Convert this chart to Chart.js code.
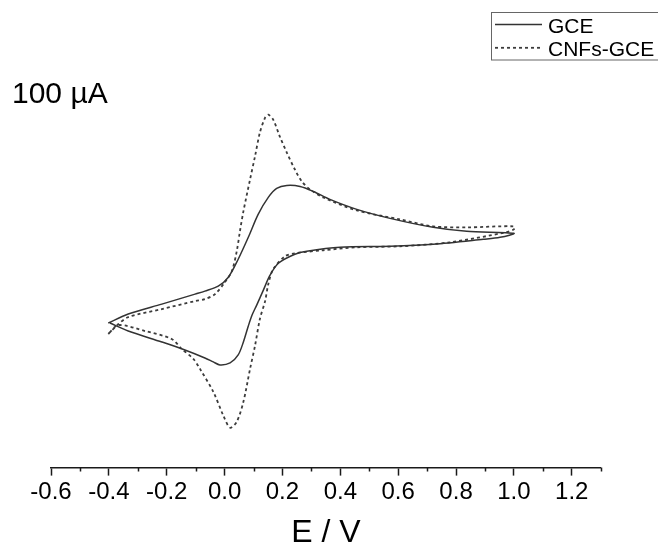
<!DOCTYPE html>
<html>
<head>
<meta charset="utf-8">
<script src="https://cdn.jsdelivr.net/npm/chart.js@4.4.1/dist/chart.umd.min.js"></script>
<style>
  html, body { margin: 0; padding: 0; background: #fff; }
  canvas { display: block; }
</style>
</head>
<body>
<canvas id="cv" width="658" height="546"></canvas>
<script>
'use strict';

// Potential (V) and current (uA, arbitrary offset)
// GCE: forward scan -0.4 -> 1.0 V, then back
const gceE = [-0.402, -0.333, -0.217, -0.102, -0.068, -0.022, 0.013, 0.047, 0.082, 0.116,
  0.151, 0.180, 0.215, 0.261, 0.307, 0.364, 0.457, 0.572, 0.721, 0.837, 1.0,
  0.952, 0.894, 0.721, 0.572, 0.399, 0.284, 0.243, 0.186, 0.157, 0.134, 0.111,
  0.095, 0.082, 0.065, 0.047, 0.019, -0.016, -0.039, -0.068, -0.137, -0.217, -0.333, -0.396];
const gceI = [-24, -15, -5, 5, 8, 13, 22, 40, 62, 85,
  102, 111, 114, 113, 108, 100, 90, 81, 72, 68, 66,
  62, 60, 55, 53, 52, 48, 45, 36, 24, 9, -6,
  -16, -27, -43, -56, -64, -66, -63, -59, -51, -43, -32, -24];

// CNFs-GCE
const cnfE = [-0.402, -0.367, -0.333, -0.217, -0.102, -0.068, -0.033, 0.001, 0.025, 0.042,
  0.053, 0.065, 0.088, 0.105, 0.122, 0.140, 0.151, 0.168, 0.191, 0.215,
  0.243, 0.267, 0.295, 0.341, 0.457, 0.606, 0.721, 0.837, 1.0,
  1.0, 0.972, 0.779, 0.606, 0.457, 0.341, 0.243, 0.209, 0.168, 0.151, 0.140,
  0.122, 0.105, 0.088, 0.065, 0.042, 0.019, -0.004, -0.039, -0.085, -0.108,
  -0.148, -0.183, -0.275, -0.367, -0.402];
const cnfI = [-35, -25, -18, -10, -2, 0, 5, 17, 28, 48,
  68, 88, 120, 143, 167, 182, 185, 180, 163, 147,
  130, 118, 110, 102, 89, 80, 73, 72, 73,
  70, 67, 57, 53, 52, 49, 46, 43, 30, 15, -2,
  -20, -47, -70, -103, -123, -129, -117, -93, -70, -60,
  -50, -40, -32, -26, -35];

const seriesNames = ['GCE', 'CNFs-GCE'];
const tickValues = [-0.6, -0.4, -0.2, 0.0, 0.2, 0.4, 0.6, 0.8, 1.0, 1.2];
const tickLabels = ['-0.6', '-0.4', '-0.2', '0.0', '0.2', '0.4', '0.6', '0.8', '1.0', '1.2'];
const minorTickValues = [-0.5, -0.3, -0.1, 0.1, 0.3, 0.5, 0.7, 0.9, 1.1, 1.3];
const scaleLabel = '100 \u00B5A';
const axisTitle = 'E / V';

const FONT = '"Liberation Sans", Arial, sans-serif';
const AXIS_COLOR = '#1a1a1a';

const toPoints = (xs, ys) => xs.map((x, i) => ({ x: x, y: ys[i] }));

// Minor ticks, the "100 uA" note and the boxed legend
const extras = {
  id: 'extras',
  afterDraw(chart) {
    const { ctx, chartArea, scales } = chart;
    ctx.save();

    // minor ticks on the E axis
    ctx.strokeStyle = AXIS_COLOR;
    ctx.lineWidth = 1.5;
    ctx.beginPath();
    minorTickValues.forEach(v => {
      const px = Math.round(scales.x.getPixelForValue(v)) + 0.5;
      ctx.moveTo(px, chartArea.bottom);
      ctx.lineTo(px, chartArea.bottom + 4);
    });
    ctx.stroke();

    // current scale note
    ctx.fillStyle = '#000';
    ctx.font = '30px ' + FONT;
    ctx.textBaseline = 'alphabetic';
    ctx.fillText(scaleLabel, 12, 103);

    // legend
    ctx.strokeStyle = '#666';
    ctx.lineWidth = 1;
    ctx.strokeRect(491.5, 12.5, 180, 47.5);
    ctx.font = '21px ' + FONT;
    chart.data.datasets.forEach((ds, i) => {
      const y = 24.5 + i * 23.3;
      ctx.strokeStyle = ds.borderColor;
      ctx.lineWidth = ds.borderWidth;
      ctx.setLineDash(ds.borderDash || []);
      ctx.beginPath();
      ctx.moveTo(495, y);
      ctx.lineTo(542, y);
      ctx.stroke();
      ctx.setLineDash([]);
      ctx.fillStyle = '#000';
      ctx.fillText(ds.label, 548, 32.7 + i * 23.3);
    });

    ctx.restore();
  }
};

const configuration = {
  type: 'scatter',
  data: {
    datasets: [{
      label: seriesNames[0],
      data: toPoints(gceE, gceI),
      showLine: true,
      borderColor: '#333333',
      borderWidth: 1.5,
      pointRadius: 0,
      tension: 0.3
    }, {
      label: seriesNames[1],
      data: toPoints(cnfE, cnfI),
      showLine: true,
      borderColor: '#3c3c3c',
      borderWidth: 1.8,
      borderDash: [3, 3],
      pointRadius: 0,
      tension: 0.3
    }]
  },
  options: {
    responsive: false,
    animation: false,
    plugins: {
      legend: { display: false },
      tooltip: { enabled: false }
    },
    layout: {
      padding: { left: 51, right: 57.3, top: 10, bottom: 0 }
    },
    scales: {
      x: {
        type: 'linear',
        min: -0.6,
        max: 1.3,
        afterBuildTicks: axis => {
          axis.ticks = tickValues.map(v => ({ value: v }));
        },
        border: { display: true, color: AXIS_COLOR, width: 1.5 },
        grid: {
          display: true,
          drawOnChartArea: false,
          drawTicks: true,
          tickLength: 8,
          tickWidth: 1.5,
          tickColor: AXIS_COLOR
        },
        ticks: {
          padding: 2,
          color: '#000',
          font: { family: FONT, size: 24 },
          maxRotation: 0,
          callback: (value, index) => tickLabels[index]
        },
        title: {
          display: true,
          text: axisTitle,
          color: '#000',
          font: { family: FONT, size: 32, lineHeight: 0.8 },
          padding: { top: 12, bottom: 0 }
        }
      },
      y: {
        type: 'linear',
        display: false,
        min: -169,
        max: 290
      }
    }
  },
  plugins: [extras]
};

new Chart(document.getElementById('cv').getContext('2d'), configuration);
</script>
</body>
</html>
